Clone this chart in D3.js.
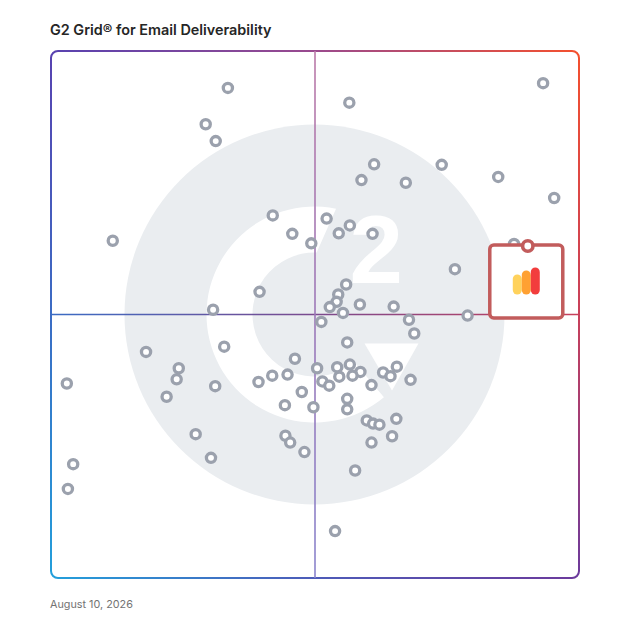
<!DOCTYPE html>
<html>
<head>
<meta charset="utf-8">
<script src="https://cdn.jsdelivr.net/npm/d3@7"></script>
<style>
  body { margin: 0; background: #fff; }
  svg { display: block; }
</style>
</head>
<body>
<svg width="628" height="628"></svg>
<script>
const title = 'G2 Grid\u00ae for Email Deliverability',
      dateLabel = 'August 10, 2026';

// satisfaction (x) and market presence (y), 0-100
const satisfaction = [
  33.5, 56.5, 93.2, 29.3, 31.2, 61.2, 74.0, 58.8, 67.2, 84.7,
  95.3, 11.7, 42.0, 52.2, 56.6, 54.5, 45.7, 60.9, 49.3, 87.7,
  76.5, 55.9, 39.5, 54.4, 54.1, 52.8, 58.5, 64.9, 30.7, 55.3,
  78.9, 51.2, 67.8, 68.8, 56.1, 32.8, 18.0, 46.2, 24.2, 23.8,
  3.0, 31.1, 39.3, 41.9, 44.8, 50.4, 54.2, 56.6, 58.6, 57.1,
  54.6, 51.4, 52.7, 60.7, 62.9, 64.3, 65.5, 68.1, 47.5, 56.1,
  56.1, 21.9, 44.3, 49.7, 59.8, 61.0, 62.2, 65.4, 64.6, 60.7,
  27.4, 44.4, 45.3, 48.0, 4.2, 30.3, 57.6, 3.2, 53.8
];
const marketPresence = [
  93.0, 90.2, 93.9, 86.1, 82.9, 78.5, 78.4, 75.5, 75.0, 76.1,
  72.1, 64.0, 68.8, 68.2, 66.9, 65.4, 65.3, 65.3, 63.5, 63.4,
  58.6, 55.7, 54.3, 53.8, 52.4, 51.4, 51.9, 51.5, 50.9, 50.3,
  49.8, 48.6, 49.0, 46.4, 44.7, 43.9, 42.9, 41.6, 39.8, 37.7,
  36.9, 36.4, 37.2, 38.4, 38.6, 39.8, 40.0, 40.5, 39.1, 38.4,
  38.2, 37.3, 36.5, 36.6, 39.0, 38.3, 40.1, 37.6, 35.3, 34.0,
  32.0, 34.4, 32.8, 32.4, 29.9, 29.3, 29.1, 30.2, 26.9, 25.7,
  27.3, 27.0, 25.7, 23.9, 21.6, 22.8, 20.4, 16.9, 8.9
];
// the highlighted product
const highlight = { satisfaction: 90.3, marketPresence: 63.0 };
const highlightBars = [
  { color: '#ffd25c', height: 20 },
  { color: '#ffa132', height: 24 },
  { color: '#f23d3d', height: 27 }
];

const svg = d3.select('svg');
const x0 = 51, x1 = 579, y0 = 51, y1 = 578;

const x = d3.scaleLinear().domain([0, 100]).range([x0, x1]);
const y = d3.scaleLinear().domain([0, 100]).range([y1, y0]);
const cx = x(50), cy = y(50);

const defs = svg.append('defs');
function gradient(id, ax, ay, bx, by, stops) {
  const g = defs.append('linearGradient')
    .attr('id', id)
    .attr('gradientUnits', 'userSpaceOnUse')
    .attr('x1', ax).attr('y1', ay).attr('x2', bx).attr('y2', by);
  stops.forEach(([o, c]) => g.append('stop').attr('offset', o).attr('stop-color', c));
}

// title + date
svg.append('text')
  .attr('x', 50).attr('y', 35)
  .attr('font-family', 'Inter, sans-serif')
  .attr('font-weight', 600)
  .attr('font-size', 14.4)
  .attr('fill', '#262626')
  .text(title);

svg.append('text')
  .attr('x', 50).attr('y', 608)
  .attr('font-family', 'Inter, sans-serif')
  .attr('font-size', 10.8)
  .attr('fill', '#737373')
  .text(dateLabel);

// G2 watermark
const logo = svg.append('g').attr('class', 'watermark');
const lx = cx - 0.5;
logo.append('circle')
  .attr('cx', lx).attr('cy', cy).attr('r', 190)
  .attr('fill', '#eaedf0');

const rIn = 62, rOut = 108;
const deg = Math.PI / 180;
const pt = (r, a) => [lx + r * Math.sin(a * deg), cy - r * Math.cos(a * deg)];
const ring = d3.path();
let p = pt(rOut, 11.5);
ring.moveTo(p[0], p[1]);
ring.arc(lx, cy, rOut, (11.5 - 90) * deg, (140 - 90 - 360) * deg, true);
p = pt(rIn, 140);
ring.lineTo(p[0], p[1]);
ring.arc(lx, cy, rIn, (140 - 90 - 360) * deg, (2 - 90) * deg, false);
ring.closePath();
logo.append('path').attr('d', ring.toString()).attr('fill', '#fff');

logo.append('path')
  .attr('d', `M${lx + 50},${cy + 29}L${lx + 104},${cy + 29}L${lx + 77.5},${cy + 76}Z`)
  .attr('fill', '#fff');

logo.append('text')
  .attr('x', lx + 35).attr('y', cy - 32)
  .attr('font-family', '"Liberation Sans", Arial, sans-serif')
  .attr('font-weight', 700)
  .attr('font-size', 96)
  .attr('fill', '#fff')
  .text('2');

// quadrant frame
gradient('gTop', x0, 0, x1, 0, [[0, '#5842b0'], [0.5, '#9a4a8e'], [1, '#f4502e']]);
gradient('gRight', 0, y0, 0, y1, [[0, '#f4502e'], [0.5, '#c8405a'], [1, '#6c3a9c']]);
gradient('gBottom', x0, 0, x1, 0, [[0, '#239fdb'], [0.5, '#4d5bb8'], [1, '#6c3a9c']]);
gradient('gLeft', 0, y0, 0, y1, [[0, '#5842b0'], [0.5, '#3b6cc4'], [1, '#239fdb']]);
gradient('gMidH', x0, 0, x1, 0, [[0, '#3b6cc4'], [0.5, '#7b4a8e'], [1, '#c8405a']]);
gradient('gMidV', 0, y0, 0, y1, [[0, '#bb7aa8'], [0.5, '#9c78b8'], [1, '#8a84cc']]);

const rc = 7;
const frame = svg.append('g').attr('fill', 'none').attr('stroke-width', 2);
frame.append('path')
  .attr('d', `M${x0},${y0 + rc}A${rc},${rc} 0 0 1 ${x0 + rc},${y0}L${x1 - rc},${y0}A${rc},${rc} 0 0 1 ${x1},${y0 + rc}`)
  .attr('stroke', 'url(#gTop)');
frame.append('path')
  .attr('d', `M${x1},${y0 + rc}L${x1},${y1 - rc}`)
  .attr('stroke', 'url(#gRight)');
frame.append('path')
  .attr('d', `M${x1},${y1 - rc}A${rc},${rc} 0 0 1 ${x1 - rc},${y1}L${x0 + rc},${y1}A${rc},${rc} 0 0 1 ${x0},${y1 - rc}`)
  .attr('stroke', 'url(#gBottom)');
frame.append('path')
  .attr('d', `M${x0},${y1 - rc}L${x0},${y0 + rc}`)
  .attr('stroke', 'url(#gLeft)');

svg.append('line')
  .attr('x1', x0).attr('x2', x1).attr('y1', cy).attr('y2', cy)
  .attr('stroke', 'url(#gMidH)').attr('stroke-width', 1.6);
svg.append('line')
  .attr('x1', cx).attr('x2', cx).attr('y1', y0).attr('y2', y1)
  .attr('stroke', 'url(#gMidV)').attr('stroke-width', 1.6);

// products
const points = satisfaction.map((s, i) => ({ s, m: marketPresence[i] }));
svg.append('g')
  .selectAll('circle')
  .data(points)
  .enter()
  .append('circle')
  .attr('cx', d => x(d.s))
  .attr('cy', d => y(d.m))
  .attr('r', 4.6)
  .attr('fill', '#fff')
  .attr('stroke', '#9ba1ad')
  .attr('stroke-width', 3.3);

// highlighted product card
const hx = x(highlight.satisfaction), hy = y(highlight.marketPresence);
const card = svg.append('g');
card.append('rect')
  .attr('x', hx - 38).attr('y', hy - 1)
  .attr('width', 73).attr('height', 73)
  .attr('rx', 4)
  .attr('fill', '#fff')
  .attr('stroke', '#c25c5c')
  .attr('stroke-width', 3.5);

card.selectAll('rect.bar')
  .data(highlightBars)
  .enter()
  .append('rect')
  .attr('class', 'bar')
  .attr('x', (d, i) => hx - 15 + i * 9)
  .attr('y', d => hy + 48.5 - d.height)
  .attr('width', 9)
  .attr('height', d => d.height)
  .attr('rx', 4.5)
  .attr('fill', d => d.color);

card.append('circle')
  .attr('cx', hx).attr('cy', hy)
  .attr('r', 5.2)
  .attr('fill', '#fff')
  .attr('stroke', '#c25c5c')
  .attr('stroke-width', 3.6);
</script>
</body>
</html>
